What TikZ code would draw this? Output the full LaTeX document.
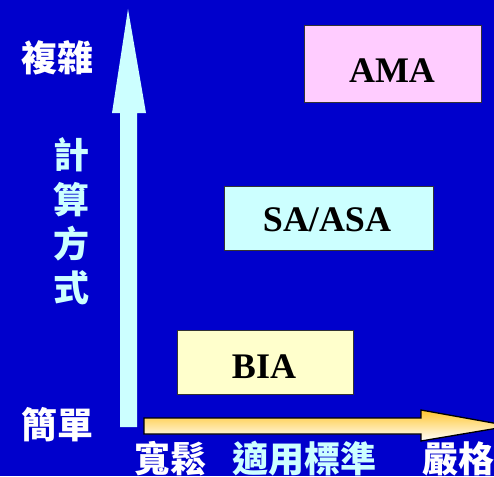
\documentclass[tikz,border=0pt]{standalone}
\usepackage{fontspec}
\setmainfont{Liberation Serif}
\newfontfamily\cjk{Noto Sans CJK TC}
\definecolor{bgblue}{HTML}{0000CC}
\definecolor{lcyan}{HTML}{CCFFFF}
\definecolor{lpink}{HTML}{FFCCFF}
\definecolor{lyellow}{HTML}{FFFFCC}
\definecolor{gold}{HTML}{FFC62E}
\begin{document}
\begin{tikzpicture}[x=1pt,y=-1pt,
  box/.style={draw=black!80,line width=0.8pt,inner sep=0pt,font=\fontsize{36}{36}\selectfont\bfseries},
  cjklabel/.style={font=\cjk\fontsize{36}{36}\selectfont\bfseries,inner sep=0pt},
]
\useasboundingbox (0,0) rectangle (494,476);
\fill[bgblue] (0,0) rectangle (494,476);
\clip (0,0) rectangle (494,476);
% vertical arrow
\fill[lcyan] (120,427) -- (120,113) -- (112,113) -- (128,9) -- (146,113) -- (137,113) -- (137,427) -- cycle;
% horizontal arrow
\shade[top color=gold,bottom color=white,draw=black,line width=1.3pt]
  (144,418) -- (421,418) -- (421,410) -- (510,426) -- (421,441) -- (421,434) -- (144,434) -- cycle;
% boxes
\node[box,fill=lpink,minimum width=177pt,minimum height=77pt] (ama) at (392.5,63.5) {};
\node[font=\fontsize{36}{36}\selectfont\bfseries] at (392,71) {AMA};
\node[box,fill=lcyan,minimum width=209pt,minimum height=64pt] (sa) at (328.5,218) {};
\node[font=\fontsize{36}{36}\selectfont\bfseries] at (327,220) {SA/ASA};
\node[box,fill=lyellow,minimum width=176pt,minimum height=64pt] (bia) at (265,362) {};
\node[font=\fontsize{36}{36}\selectfont\bfseries] at (264,367) {BIA};
% labels
\node[cjklabel,text=white] (fz) at (57,58) {複雜};
\node[cjklabel,text=white] (jd) at (57,425) {簡單};
\node[cjklabel,text=lcyan] (c1) at (71,155) {計};
\node[cjklabel,text=lcyan] (c2) at (71,200) {算};
\node[cjklabel,text=lcyan] (c3) at (71,244) {方};
\node[cjklabel,text=lcyan] (c4) at (71,288) {式};
\node[cjklabel,text=white] (ks) at (170,459) {寬鬆};
\node[cjklabel,text=lcyan] (sy) at (304,459) {適用標準};
\node[cjklabel,text=white] (yg) at (458,459) {嚴格};
\end{tikzpicture}
\end{document}
